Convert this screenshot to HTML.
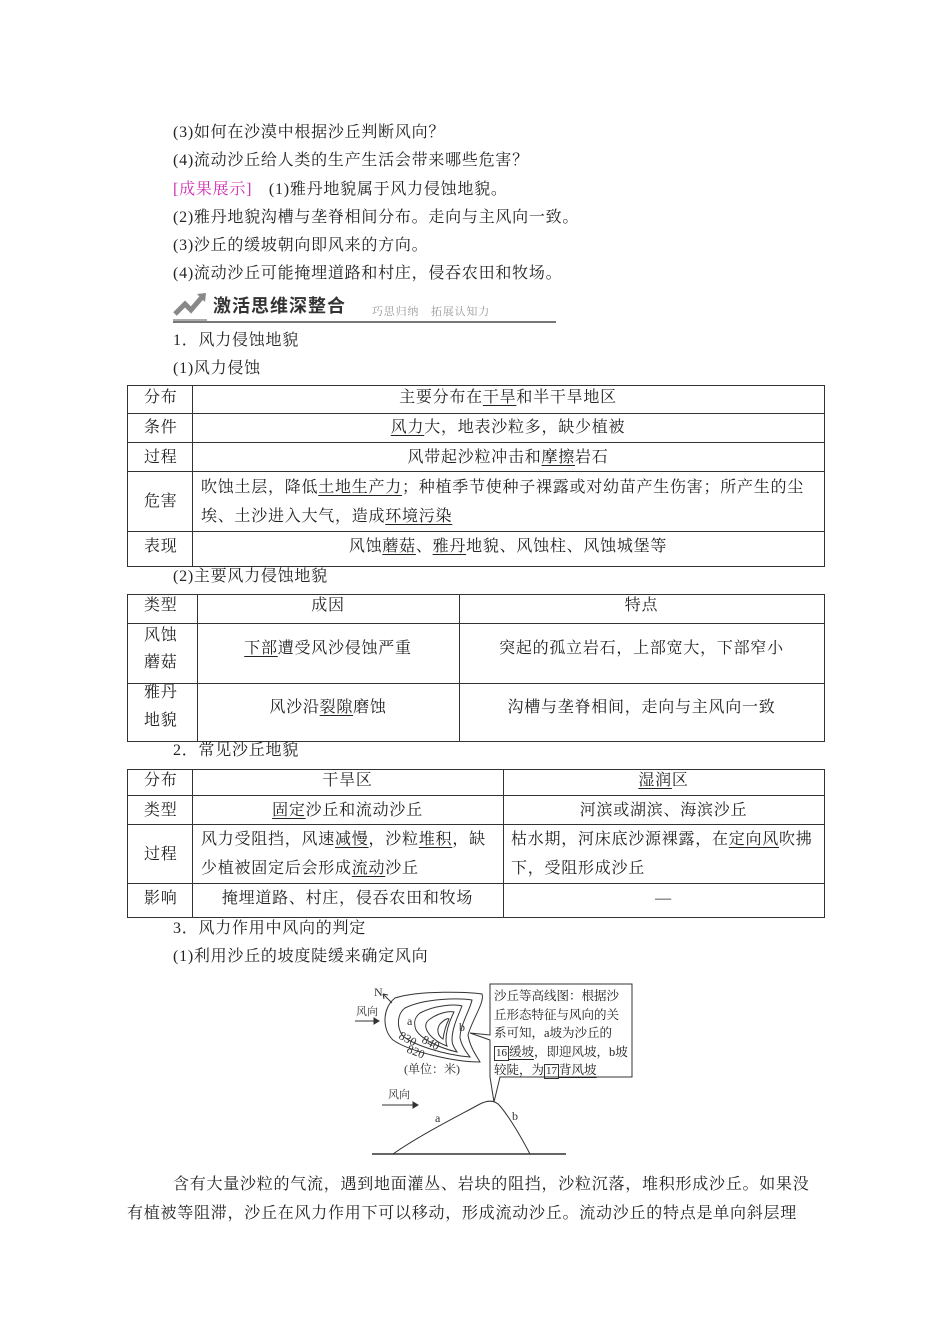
<!DOCTYPE html>
<html><head><meta charset="utf-8"><style>
body{margin:0;width:950px;height:1344px;background:#fff;position:relative;overflow:hidden;font-family:"Liberation Serif","Noto Serif CJK SC",serif;color:#222}
.t{position:absolute;white-space:nowrap;font-size:16px;line-height:20px;letter-spacing:0.75px}
.c{text-align:center}
u{text-decoration:underline;text-underline-offset:3px;text-decoration-thickness:1px}
.h{position:absolute;height:1px;background:#333}
.v{position:absolute;width:1px;background:#333}
.bx{border:1px solid #333;padding:0 1px;line-height:13px;display:inline-block;font-size:11px;letter-spacing:0}
</style></head><body>
<div class="t" style="left:173px;top:123px">(3)如何在沙漠中根据沙丘判断风向？</div>
<div class="t" style="left:173px;top:151px">(4)流动沙丘给人类的生产生活会带来哪些危害？</div>
<div class="t" style="left:173px;top:180px"><span style="color:#d02fb0">[成果展示]</span>　(1)雅丹地貌属于风力侵蚀地貌。</div>
<div class="t" style="left:173px;top:208px">(2)雅丹地貌沟槽与垄脊相间分布。走向与主风向一致。</div>
<div class="t" style="left:173px;top:236px">(3)沙丘的缓坡朝向即风来的方向。</div>
<div class="t" style="left:173px;top:264px">(4)流动沙丘可能掩埋道路和村庄，侵吞农田和牧场。</div>
<svg style="position:absolute;left:173px;top:290px" width="34" height="32"><path d="M2 24 L12 14 L18 20 L30 6" stroke="#888" stroke-width="5" fill="none"/><path d="M24 4 L33 3 L32 12 Z" fill="#888"/><path d="M0 30 L34 30" stroke="#aaa" stroke-width="2"/></svg>
<div class="t" style="left:213px;top:296px;font-family:'Liberation Sans','Noto Sans CJK SC',sans-serif;font-weight:bold;font-size:18px;color:#333;letter-spacing:1px">激活思维深整合</div>
<div class="t" style="left:372px;top:302px;font-size:11px;color:#999;letter-spacing:0.8px">巧思归纳　拓展认知力</div>
<div style="position:absolute;left:173px;top:321px;width:383px;height:2px;background:#777"></div>
<div class="t" style="left:173px;top:331px">1．风力侵蚀地貌</div>
<div class="t" style="left:173px;top:359px">(1)风力侵蚀</div>
<!-- table1 -->
<div class="h" style="left:127px;top:385px;width:698px"></div>
<div class="h" style="left:127px;top:413px;width:698px"></div>
<div class="h" style="left:127px;top:442px;width:698px"></div>
<div class="h" style="left:127px;top:471px;width:698px"></div>
<div class="h" style="left:127px;top:531px;width:698px"></div>
<div class="h" style="left:127px;top:566px;width:698px"></div>
<div class="v" style="left:127px;top:385px;height:182px"></div>
<div class="v" style="left:192px;top:385px;height:182px"></div>
<div class="v" style="left:824px;top:385px;height:182px"></div>
<div class="t" style="left:144px;top:388px">分布</div>
<div class="t" style="left:144px;top:418px">条件</div>
<div class="t" style="left:144px;top:448px">过程</div>
<div class="t" style="left:144px;top:492px">危害</div>
<div class="t" style="left:144px;top:537px">表现</div>
<div class="t c" style="left:192px;width:632px;top:388px">主要分布在<u>干旱</u>和半干旱地区</div>
<div class="t c" style="left:192px;width:632px;top:418px"><u>风力</u>大，地表沙粒多，缺少植被</div>
<div class="t c" style="left:192px;width:632px;top:448px">风带起沙粒冲击和<u>摩擦</u>岩石</div>
<div class="t" style="left:201px;top:478px">吹蚀土层，降低<u>土地生产力</u>；种植季节使种子裸露或对幼苗产生伤害；所产生的尘</div>
<div class="t" style="left:201px;top:507px">埃、土沙进入大气，造成<u>环境污染</u></div>
<div class="t c" style="left:192px;width:632px;top:537px">风蚀<u>蘑菇</u>、<u>雅丹</u>地貌、风蚀柱、风蚀城堡等</div>
<div class="t" style="left:173px;top:567px">(2)主要风力侵蚀地貌</div>
<!-- table2 -->
<div class="h" style="left:127px;top:594px;width:698px"></div>
<div class="h" style="left:127px;top:623px;width:698px"></div>
<div class="h" style="left:127px;top:683px;width:698px"></div>
<div class="h" style="left:127px;top:741px;width:698px"></div>
<div class="v" style="left:127px;top:594px;height:148px"></div>
<div class="v" style="left:197px;top:594px;height:148px"></div>
<div class="v" style="left:459px;top:594px;height:148px"></div>
<div class="v" style="left:824px;top:594px;height:148px"></div>
<div class="t" style="left:144px;top:596px">类型</div>
<div class="t c" style="left:197px;width:262px;top:596px">成因</div>
<div class="t c" style="left:459px;width:365px;top:596px">特点</div>
<div class="t" style="left:144px;top:626px">风蚀</div>
<div class="t" style="left:144px;top:653px">蘑菇</div>
<div class="t c" style="left:197px;width:262px;top:639px"><u>下部</u>遭受风沙侵蚀严重</div>
<div class="t c" style="left:459px;width:365px;top:639px">突起的孤立岩石，上部宽大，下部窄小</div>
<div class="t" style="left:144px;top:683px">雅丹</div>
<div class="t" style="left:144px;top:711px">地貌</div>
<div class="t c" style="left:197px;width:262px;top:698px">风沙沿<u>裂隙</u>磨蚀</div>
<div class="t c" style="left:459px;width:365px;top:698px">沟槽与垄脊相间，走向与主风向一致</div>
<div class="t" style="left:173px;top:741px">2．常见沙丘地貌</div>
<!-- table3 -->
<div class="h" style="left:127px;top:769px;width:698px"></div>
<div class="h" style="left:127px;top:795px;width:698px"></div>
<div class="h" style="left:127px;top:824px;width:698px"></div>
<div class="h" style="left:127px;top:883px;width:698px"></div>
<div class="h" style="left:127px;top:917px;width:698px"></div>
<div class="v" style="left:127px;top:769px;height:149px"></div>
<div class="v" style="left:192px;top:769px;height:149px"></div>
<div class="v" style="left:503px;top:769px;height:149px"></div>
<div class="v" style="left:824px;top:769px;height:149px"></div>
<div class="t" style="left:144px;top:771px">分布</div>
<div class="t c" style="left:192px;width:311px;top:771px">干旱区</div>
<div class="t c" style="left:503px;width:321px;top:771px"><u>湿润</u>区</div>
<div class="t" style="left:144px;top:801px">类型</div>
<div class="t c" style="left:192px;width:311px;top:801px"><u>固定</u>沙丘和流动沙丘</div>
<div class="t c" style="left:503px;width:321px;top:801px">河滨或湖滨、海滨沙丘</div>
<div class="t" style="left:144px;top:845px">过程</div>
<div class="t" style="left:201px;top:830px">风力受阻挡，风速<u>减慢</u>，沙粒<u>堆积</u>，缺</div>
<div class="t" style="left:201px;top:859px">少植被固定后会形成<u>流动</u>沙丘</div>
<div class="t" style="left:511px;top:830px">枯水期，河床底沙源裸露，在<u>定向风</u>吹拂</div>
<div class="t" style="left:511px;top:859px">下，受阻形成沙丘</div>
<div class="t" style="left:144px;top:889px">影响</div>
<div class="t c" style="left:192px;width:311px;top:889px">掩埋道路、村庄，侵吞农田和牧场</div>
<div class="t c" style="left:503px;width:321px;top:889px">—</div>
<div class="t" style="left:173px;top:919px">3．风力作用中风向的判定</div>
<div class="t" style="left:173px;top:947px">(1)利用沙丘的坡度陡缓来确定风向</div>
<svg style="position:absolute;left:0;top:0" width="950" height="1344" font-family="Liberation Serif,Noto Serif CJK SC,serif" fill="none" stroke="#333" stroke-width="1">
<text x="374" y="996" font-size="12" fill="#333" stroke="none">N</text>
<path d="M392 1003 L383 994" /><path d="M383 994 L384 999 M383 994 L388 995"/>
<text x="356" y="1015" font-size="11" fill="#333" stroke="none">风向</text>
<path d="M355 1021 L379 1021"/><path d="M379 1021 L374 1018 L374 1024 Z" fill="#333"/>
<path d="M395 998 C420 990 470 992 482 994 C485 1002 472 1020 468 1035 C470 1048 478 1058 480 1062 C455 1062 410 1052 393 1040 C382 1030 382 1008 395 998 Z"/>
<path d="M405 1008 C425 998 460 998 472 1000 C470 1010 460 1025 460 1038 C462 1048 468 1054 470 1057 C445 1055 412 1045 402 1035 C396 1025 398 1013 405 1008 Z"/>
<path d="M420 1013 C435 1005 455 1004 462 1006 C458 1016 452 1028 452 1040 C452 1046 456 1050 457 1052 C440 1048 422 1040 416 1030 C413 1022 415 1017 420 1013 Z"/>
<path d="M430 1019 C440 1012 450 1011 454 1012 C450 1020 446 1030 446 1040 C446 1044 447 1046 447 1046 C436 1042 428 1035 426 1028 C425 1024 427 1021 430 1019 Z"/>
<path d="M440 1024 C445 1019 448 1018 449 1019 C446 1025 444 1032 443 1039 C438 1036 436 1030 440 1024 Z"/>
<text x="407" y="1025" font-size="12" fill="#333" stroke="none">a</text>
<text x="459" y="1031" font-size="12" fill="#333" stroke="none">b</text>
<text x="398" y="1038" font-size="12" fill="#333" stroke="none" transform="rotate(28 398 1038)">830</text>
<text x="421" y="1042" font-size="12" fill="#333" stroke="none" transform="rotate(28 421 1042)">840</text>
<text x="406" y="1052" font-size="12" fill="#333" stroke="none" transform="rotate(22 406 1052)">820</text>
<text x="404" y="1073" font-size="12" fill="#333" stroke="none">(单位：米)</text>
<path d="M490 1035 L490 984 L632 984 L632 1077 L500 1077 L494 1102 L490 1077 L490 1040 L470 1033 Z" fill="#fff"/>
<text x="388" y="1098" font-size="11" fill="#333" stroke="none">风向</text>
<path d="M382 1105 L418 1105"/><path d="M418 1105 L413 1102 L413 1108 Z" fill="#333"/>
<path d="M393 1154 C420 1135 460 1115 480 1104 C488 1100 495 1100 500 1106 C510 1118 520 1135 530 1154"/>
<text x="435" y="1122" font-size="12" fill="#333" stroke="none">a</text>
<text x="512" y="1120" font-size="12" fill="#333" stroke="none">b</text>
<path d="M372 1154 L566 1154" stroke-width="1.5"/>
</svg>
<div style="position:absolute;left:494px;top:987px;font-size:12.5px;line-height:18.5px;white-space:nowrap;color:#222">沙丘等高线图：根据沙<br>丘形态特征与风向的关<br>系可知，a坡为沙丘的<br><span class="bx">16</span><u>缓坡</u>，即迎风坡，b坡<br>较陡，为<span class="bx">17</span><u>背风坡</u></div>
<div class="t" style="left:173px;top:1175px">含有大量沙粒的气流，遇到地面灌丛、岩块的阻挡，沙粒沉落，堆积形成沙丘。如果没</div>
<div class="t" style="left:127px;top:1204px">有植被等阻滞，沙丘在风力作用下可以移动，形成流动沙丘。流动沙丘的特点是单向斜层理</div>
</body></html>
